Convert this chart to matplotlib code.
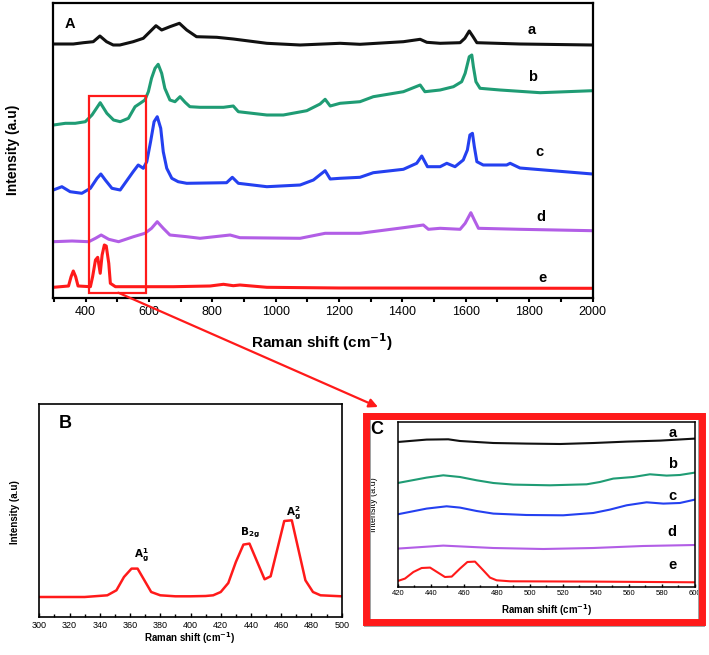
import matplotlib
matplotlib.use("Agg")
import matplotlib.pyplot as plt
from matplotlib.patches import Rectangle, ConnectionPatch
from matplotlib.ticker import MultipleLocator

plt.rcParams["font.family"] = ["Liberation Sans", "DejaVu Sans"]

# ---- Panel A: Raman spectra (offset, arbitrary units) ----
a_x = [298, 361, 393, 424, 445, 466, 487, 508, 550, 582, 603, 622, 640, 666, 696, 719, 750, 814,
       866, 972, 1077, 1203, 1266, 1403, 1456, 1477, 1519, 1582, 1597, 1611, 1623, 1635, 1771,
       2000]
a_y = [254, 254, 255.3, 256.3, 262, 256.3, 253, 253, 256.3, 259.7, 266.3, 272.3, 268, 271.3,
       274.7, 268, 261.3, 260.7, 259, 254.7, 253, 254.7, 253.7, 256.3, 258.7, 255.7, 254.7,
       255.3, 259.7, 267, 261.3, 255.3, 254, 253]

b_x = [299, 336, 367, 399, 420, 446, 467, 488, 509, 535, 556, 572, 587, 598, 608, 619, 629, 640,
       650, 666, 682, 698, 714, 729, 761, 835, 866, 882, 972, 1024, 1098, 1140, 1156, 1172, 1203,
       1266, 1308, 1403, 1456, 1471, 1519, 1561, 1587, 1598, 1611, 1619, 1624, 1632, 1645, 1708,
       1835, 2000]
b_y = [173, 174.7, 174.7, 176.3, 183, 195.3, 184.7, 178, 176.3, 179.7, 191.3, 194.7, 198, 206.3,
       219.7, 229.7, 233.7, 224.7, 209.7, 198, 196.3, 201.3, 195.7, 191.3, 190.7, 190.7, 192,
       186.3, 183, 183, 187.3, 194, 198.7, 192, 194.7, 196.3, 201.3, 206.3, 213, 206.3, 208,
       211.3, 216.3, 224.7, 241.3, 243, 231.3, 216.3, 209.7, 208, 205.3, 207.3]

c_x = [298, 325, 351, 388, 415, 436, 448, 462, 483, 509, 550, 566, 582, 593, 605, 616, 626, 637,
       645, 656, 672, 692, 719, 845, 863, 882, 972, 1077, 1119, 1156, 1172, 1203, 1266, 1308,
       1403, 1445, 1461, 1479, 1519, 1540, 1566, 1592, 1605, 1613, 1621, 1627, 1635, 1655, 1729,
       1740, 1771, 2000]
c_y = [108, 111.3, 106.3, 104.7, 109.7, 119.7, 124, 118, 109.7, 108, 126.3, 133, 129.7, 136.3,
       156.3, 176.3, 181.3, 169.7, 146.3, 129.7, 119.7, 116.3, 114.7, 115.3, 120.7, 114.7, 111.3,
       113, 118, 127.3, 119, 119.7, 120.7, 125.3, 128.7, 134.7, 142, 131.3, 131.3, 134.7, 131.3,
       138, 148, 163, 164.7, 151.3, 136.3, 133, 133, 134.7, 130, 124]

d_x = [298, 357, 410, 431, 449, 473, 504, 551, 587, 608, 626, 645, 666, 719, 761, 856, 887, 1077,
       1156, 1266, 1403, 1466, 1482, 1519, 1582, 1598, 1616, 1627, 1640, 1771, 2000]
d_y = [56.3, 57, 56.3, 59.7, 63, 58.7, 56.3, 61.3, 64.7, 69.7, 76.3, 69.7, 63, 61.3, 59.7, 63,
       60.3, 59.7, 64.7, 64.7, 70.3, 73, 68.7, 69.7, 68.7, 74.7, 85.3, 78, 69.7, 68.7, 67.3]

e_x = [298, 346, 354, 361, 368.5, 376, 415, 422, 431, 438, 446, 452, 459, 465, 473, 478, 494, 677,
       793, 835, 866, 887, 972, 1200, 2000]
e_y = [10.7, 12, 21.3, 27, 21.3, 12, 11.3, 21.3, 38, 40.7, 24.7, 43, 53, 52, 34.7, 14.7, 11.3,
       11.3, 12, 13.7, 12.3, 13, 10.7, 10, 9.7]

# ---- Panel B: zoom of curve e ----
B_x = [300, 330, 345, 351, 356, 361, 365, 374, 380, 390, 400, 410, 415, 420, 425, 430, 435, 439,
       449, 453, 462, 467, 471, 476, 481, 486, 500]
B_y = [20.3, 20.3, 22, 27, 40.3, 48.7, 48.7, 25.3, 22, 21, 21, 21.3, 22, 25.3, 34.3, 55.3, 72.7,
       73.7, 38, 41, 96.3, 97, 70.3, 37, 25.3, 22, 21]

# ---- Panel C: 420-600 region ----
Ca_x = [420, 437.5, 450.6, 457.7, 477.9, 498, 518.4, 538.6, 558.8, 578.9, 600]
Ca_y = [145.3, 147.7, 148, 146.3, 144.3, 143.7, 143.3, 144.3, 145.7, 146.7, 148.7]
Cb_x = [420, 437.5, 447.6, 457.7, 467.8, 477.9, 490, 512.2, 534.4, 542.4, 550.5, 562.6, 572.7,
        582.8, 590.8, 600]
Cb_y = [104.3, 109.7, 112, 110.3, 107, 104.3, 102.7, 102, 103, 105.3, 108.7, 110.3, 113, 111.7,
        112.3, 114.7]
Cc_x = [420, 437.5, 449.6, 457.7, 467.8, 477.9, 498, 520.2, 538.4, 548.5, 558.6, 570.7, 580.8,
        590.8, 600]
Cc_y = [73, 78.7, 81, 79.7, 76.3, 73.7, 72.3, 72, 74.3, 77.7, 82, 85, 83.7, 84.3, 87.7]
Cd_x = [420, 447.6, 477.9, 508.1, 538.4, 568.6, 600]
Cd_y = [38.7, 41.7, 39.3, 38.3, 39.3, 41.3, 42.3]
Ce_x = [420, 424.4, 429.5, 434.5, 439.6, 448.6, 452.7, 457.7, 462.2, 466.8, 471.8, 475.9, 479.9,
        488, 538.4, 600]
Ce_y = [6.3, 8.7, 15.3, 19.3, 19.7, 10.3, 10.7, 18.7, 25.3, 25.7, 17, 9.7, 7, 6, 5.7, 5]

labels = ["a", "b", "c", "d", "e"]
colors = ["#111111", "#1f9c74", "#2440f0", "#b25ee6", "#ff1a1a"]
A_lab_xy = [(1808, 268), (1811, 221), (1831, 146), (1837, 81), (1843, 20)]
C_lab_y = [154.6, 123, 91.3, 55.6, 22.3]
red = "#ff1a1a"

W, H = 709, 655


def fx(px):
    return px / W


def fy(py):
    return 1 - py / H


fig = plt.figure(figsize=(W / 100, H / 100), dpi=100)

# Panel A
axA = fig.add_axes([fx(52.7), fy(298), (592.5 - 52.7) / W, 295 / H])
for xs, ys, col in zip([a_x, b_x, c_x, d_x, e_x], [a_y, b_y, c_y, d_y, e_y], colors):
    axA.plot(xs, ys, color=col, lw=2.2, solid_joinstyle="round")
for lab, (lx, ly) in zip(labels, A_lab_xy):
    axA.text(lx, ly, lab, fontsize=10.5, fontweight="bold", ha="center", va="center")
axA.text(350, 274, "A", fontsize=10.5, fontweight="bold", ha="center", va="center")
axA.set_xlim(296, 2000)
axA.set_ylim(0, 295)
axA.set_yticks([])
axA.xaxis.set_minor_locator(MultipleLocator(100))
axA.set_xticks(range(400, 2001, 200))
axA.tick_params(axis="x", which="both", direction="out", length=3, width=1.5, labelsize=9, pad=3)
for s in axA.spines.values():
    s.set_linewidth(1.6)
axA.add_patch(Rectangle((411, 5.3), 179, 196.7, fill=False, ec=red, lw=1.6, zorder=5))
fig.text(fx(322), fy(342), "Raman shift (cm$^{\\mathbf{-1}}$)", fontsize=11, fontweight="bold",
         ha="center", va="center")
fig.text(fx(13), fy(150), "Intensity (a.u)", fontsize=10, fontweight="bold", rotation=90,
         ha="center", va="center")

# Panel B
axB = fig.add_axes([fx(39.3), fy(617.3), (341.7 - 39.3) / W, 213 / H])
axB.plot(B_x, B_y, color=red, lw=1.8)
axB.set_xlim(300, 500)
axB.set_ylim(0, 213)
axB.set_yticks([])
axB.xaxis.set_major_locator(MultipleLocator(20))
axB.xaxis.set_minor_locator(MultipleLocator(10))
axB.tick_params(axis="x", which="major", direction="in", length=3, width=1, labelsize=6.5, pad=3)
axB.tick_params(axis="x", which="minor", direction="in", length=2, width=1)
for s in axB.spines.values():
    s.set_linewidth(1.2)
axB.text(367.7, 62.3, r"$\mathbf{A^{1}_{g}}$", fontsize=7.5, ha="center", va="center")
axB.text(439, 84, r"$\mathbf{B_{2g}}$", fontsize=7.5, ha="center", va="center")
axB.text(468, 104, r"$\mathbf{A^{2}_{g}}$", fontsize=7.5, ha="center", va="center")
fig.text(fx(65), fy(423), "B", fontsize=13, fontweight="bold", ha="center", va="center")
fig.text(fx(190), fy(638.3), "Raman shift (cm$^{\\mathbf{-1}}$)", fontsize=7, fontweight="bold",
         ha="center", va="center")
fig.text(fx(15), fy(511.7), "Intensity (a.u)", fontsize=7, fontweight="bold", rotation=90,
         ha="center", va="center")

# Panel C
axC = fig.add_axes([fx(397.7), fy(587.3), (695 - 397.7) / W, 165.6 / H])
for xs, ys, col in zip([Ca_x, Cb_x, Cc_x, Cd_x, Ce_x], [Ca_y, Cb_y, Cc_y, Cd_y, Ce_y], colors):
    axC.plot(xs, ys, color=col, lw=1.5)
for lab, ly in zip(labels, C_lab_y):
    axC.text(586.2, ly, lab, fontsize=10.5, fontweight="bold", ha="center", va="center")
axC.set_xlim(420, 600)
axC.set_ylim(0, 165.6)
axC.set_yticks([])
axC.xaxis.set_major_locator(MultipleLocator(20))
axC.xaxis.set_minor_locator(MultipleLocator(10))
axC.tick_params(axis="x", which="major", direction="in", length=2.5, width=1, labelsize=5.5, pad=2)
axC.tick_params(axis="x", which="minor", direction="in", length=1.5, width=1)
for s in axC.spines.values():
    s.set_linewidth(1.1)
fig.text(fx(377), fy(430), "C", fontsize=13, fontweight="bold", ha="center", va="center")
fig.text(fx(547), fy(610), "Raman shift (cm$^{\\mathbf{-1}}$)", fontsize=7, fontweight="bold",
         ha="center", va="center")
fig.text(fx(374), fy(505), "Intensity (a.u)", fontsize=6.5, rotation=90,
         ha="center", va="center")

# red frame around panel C (drawn on top)
fig.add_artist(Rectangle((fx(367), fy(623)), (701 - 367) / W, (623 - 415.5) / H,
                         transform=fig.transFigure, fill=False, ec="#a0a0a0", lw=5, zorder=9))
fig.add_artist(Rectangle((fx(365.5), fy(621.5)), (701.5 - 365.5) / W, (621.5 - 415.5) / H,
                         transform=fig.transFigure, fill=False, ec=red, lw=5, zorder=10))

# arrow from the boxed region in A to panel C
con = ConnectionPatch(xyA=(503, 5.3), coordsA=axA.transData,
                      xyB=(fx(378), fy(407)), coordsB=fig.transFigure,
                      arrowstyle="-|>", mutation_scale=13, color=red, lw=1.6, zorder=11)
fig.add_artist(con)

fig.savefig("out.png", dpi=100)
